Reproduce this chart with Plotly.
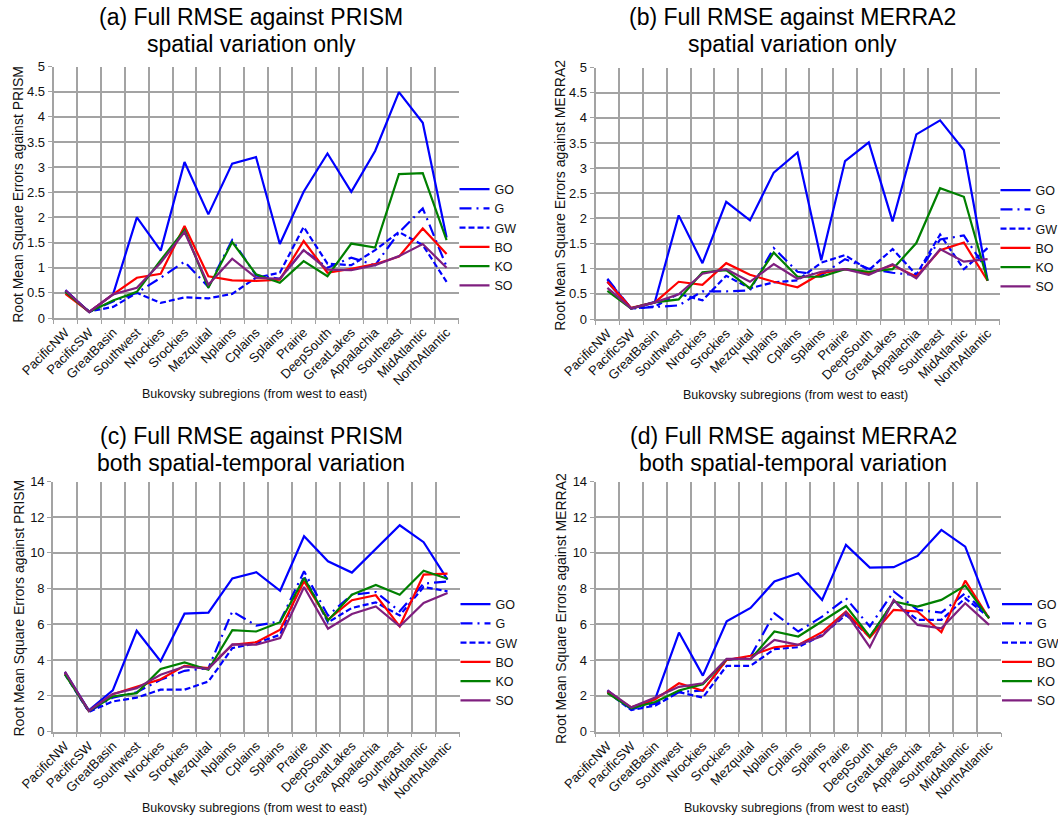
import plotly.graph_objects as go

# Bukovsky subregions, west to east
regions = ["PacificNW", "PacificSW", "GreatBasin", "Southwest", "Nrockies", "Srockies",
           "Mezquital", "Nplains", "Cplains", "Splains", "Prairie", "DeepSouth",
           "GreatLakes", "Appalachia", "Southeast", "MidAtlantic", "NorthAtlantic"]

series_names = ["GO", "G", "GW", "BO", "KO", "SO"]

# (a) RMSE against PRISM, spatial variation only
a_GO = [0.55, 0.12, 0.47, 2.0, 1.34, 3.1, 2.06, 3.07, 3.2, 1.47, 2.51, 3.27, 2.51, 3.32, 4.49, 3.88, 1.6]
a_G = [0.55, 0.12, 0.33, 0.5, 0.8, 1.12, 0.62, 1.55, 0.85, 0.78, 1.35, 1.0, 1.2, 1.05, 1.7, 2.18, 1.02]
a_GW = [0.52, 0.13, 0.22, 0.5, 0.3, 0.41, 0.39, 0.48, 0.8, 0.9, 1.81, 1.08, 1.05, 1.35, 1.71, 1.45, 0.72]
a_BO = [0.48, 0.12, 0.47, 0.8, 0.88, 1.83, 0.83, 0.75, 0.74, 0.76, 1.53, 0.9, 0.98, 1.07, 1.22, 1.78, 1.27]
a_KO = [0.52, 0.12, 0.35, 0.52, 1.15, 1.75, 0.6, 1.51, 0.87, 0.7, 1.13, 0.83, 1.48, 1.4, 2.86, 2.88, 1.55]
a_SO = [0.55, 0.12, 0.47, 0.6, 1.1, 1.71, 0.66, 1.18, 0.8, 0.78, 1.35, 0.96, 0.95, 1.05, 1.23, 1.47, 1.0]

# (b) RMSE against MERRA2, spatial variation only
b_GO = [0.74, 0.21, 0.34, 2.06, 1.11, 2.33, 1.96, 2.91, 3.31, 1.17, 3.14, 3.51, 1.94, 3.67, 3.95, 3.36, 0.76]
b_G = [0.8, 0.21, 0.24, 0.27, 0.55, 0.55, 0.57, 1.41, 0.94, 0.87, 1.19, 1.0, 0.92, 0.87, 1.58, 1.66, 0.95]
b_GW = [0.78, 0.21, 0.25, 0.5, 0.37, 0.86, 0.61, 0.73, 0.77, 1.12, 1.27, 0.97, 1.39, 0.88, 1.68, 0.99, 1.41]
b_BO = [0.74, 0.22, 0.33, 0.74, 0.68, 1.11, 0.88, 0.74, 0.63, 0.91, 0.99, 0.91, 1.07, 0.84, 1.37, 1.52, 0.76]
b_KO = [0.56, 0.21, 0.33, 0.39, 0.93, 0.97, 0.61, 1.32, 0.84, 0.84, 0.99, 0.94, 0.99, 1.51, 2.6, 2.43, 0.76]
b_SO = [0.62, 0.21, 0.33, 0.49, 0.9, 0.99, 0.74, 1.09, 0.8, 0.94, 0.99, 0.88, 1.09, 0.81, 1.39, 1.14, 1.19]

# (c) RMSE against PRISM, spatial-temporal variation
c_GO = [3.33, 1.18, 2.3, 5.64, 3.94, 6.6, 6.66, 8.57, 8.92, 7.88, 10.93, 9.53, 8.9, 10.2, 11.55, 10.6, 8.5]
c_G = [3.3, 1.1, 1.9, 2.2, 2.9, 3.4, 3.55, 6.73, 5.93, 6.17, 8.97, 6.49, 7.66, 7.81, 6.73, 8.28, 8.4]
c_GW = [3.2, 1.1, 1.68, 1.9, 2.34, 2.34, 2.8, 4.67, 4.95, 5.42, 8.69, 6.11, 6.92, 7.23, 6.5, 8.09, 7.85]
c_BO = [3.25, 1.15, 2.09, 2.49, 2.93, 3.68, 3.55, 4.86, 5.0, 5.7, 8.41, 6.26, 7.35, 7.63, 5.89, 8.79, 8.84]
c_KO = [3.2, 1.15, 1.96, 2.15, 3.5, 3.87, 3.46, 5.68, 5.6, 6.12, 8.6, 6.22, 7.66, 8.21, 7.66, 9.0, 8.55]
c_SO = [3.35, 1.15, 2.1, 2.43, 3.18, 3.64, 3.51, 4.88, 4.86, 5.23, 8.09, 5.76, 6.58, 7.0, 5.89, 7.2, 7.76]

# (d) RMSE against MERRA2, spatial-temporal variation
d_GO = [2.3, 1.25, 1.81, 5.54, 3.13, 6.17, 6.92, 8.4, 8.86, 7.37, 10.45, 9.18, 9.2, 9.83, 11.29, 10.35, 6.9]
d_G = [2.25, 1.25, 1.55, 2.2, 2.3, 4.0, 4.2, 6.62, 5.6, 6.43, 7.46, 5.88, 7.84, 6.81, 6.66, 7.74, 6.43]
d_GW = [2.2, 1.2, 1.45, 2.2, 1.9, 3.68, 3.68, 4.61, 4.72, 5.41, 6.53, 5.3, 7.28, 6.25, 6.25, 7.46, 6.4]
d_BO = [2.2, 1.35, 1.8, 2.7, 2.28, 4.01, 4.24, 4.72, 4.85, 5.56, 6.72, 5.26, 6.81, 6.72, 5.56, 8.45, 6.34]
d_KO = [2.15, 1.3, 1.65, 2.3, 2.65, 4.05, 4.05, 5.6, 5.32, 6.16, 7.03, 5.32, 7.28, 7.0, 7.37, 8.17, 6.34]
d_SO = [2.3, 1.35, 1.9, 2.5, 2.7, 4.07, 4.07, 5.13, 4.85, 5.35, 6.66, 4.72, 7.37, 5.97, 5.78, 7.18, 5.97]

panel_a = [a_GO, a_G, a_GW, a_BO, a_KO, a_SO]
panel_b = [b_GO, b_G, b_GW, b_BO, b_KO, b_SO]
panel_c = [c_GO, c_G, c_GW, c_BO, c_KO, c_SO]
panel_d = [d_GO, d_G, d_GW, d_BO, d_KO, d_SO]

colors = ["#0000FF", "#0000FF", "#0000FF", "#FF0000", "#008000", "#7F1F7F"]
dashes = ["solid", "12px,5px,2px,5px", "6px,3px", "solid", "solid", "solid"]

W, H = 1058, 820
FONT = "Liberation Sans, Arial, sans-serif"


def px_x(v):
    return v / W


def px_y(v):
    return 1 - v / H


# plot-area boxes in pixels: left, right, top, bottom
boxes = [
    (53.5, 458.5, 66.5, 318.0),
    (595.5, 999.5, 67.5, 319.0),
    (53.0, 459.5, 481.5, 731.5),
    (595.5, 1001.0, 481.5, 731.5),
]
yranges = [(0, 5, 0.5), (0, 5, 0.5), (0, 14, 2), (0, 14, 2)]
titles = [
    ("(a) Full RMSE against PRISM", "spatial variation only"),
    ("(b) Full RMSE against MERRA2", "spatial variation only"),
    ("(c) Full RMSE against PRISM", "both spatial-temporal variation"),
    ("(d) Full RMSE against MERRA2", "both spatial-temporal variation"),
]
ytitles = [
    "Root Mean Square Errors against PRISM",
    "Root Mean Square Errors against MERRA2",
    "Root Mean Square Errors against PRISM",
    "Root Mean Square Errors against MERRA2",
]
panels = [panel_a, panel_b, panel_c, panel_d]
legend_names = ["legend", "legend2", "legend3", "legend4"]

fig = go.Figure()
annotations = []
layout = {}

for i, (data, box) in enumerate(zip(panels, boxes)):
    n = "" if i == 0 else str(i + 1)
    xa, ya = "x" + n, "y" + n
    for name, vals, col, dash in zip(series_names, data, colors, dashes):
        fig.add_trace(go.Scatter(
            x=regions, y=vals, mode="lines", name=name,
            xaxis=xa, yaxis=ya, legend=legend_names[i],
            line=dict(color=col, width=2.2, dash=dash),
        ))
    left, right, top, bottom = box
    y0, y1, dt = yranges[i]
    layout["xaxis" + n] = dict(
        domain=[px_x(left), px_x(right)], anchor=ya, type="category",
        tickson="boundaries", showgrid=True, gridcolor="#A3A3A3", gridwidth=1.6,
        showline=True, linecolor="#A3A3A3", linewidth=1.6, mirror=False,
        ticks="outside", ticklen=4, tickcolor="#A3A3A3",
        tickangle=-45, tickfont=dict(family=FONT, size=13, color="#111"),
        range=[-0.5, 16.5], fixedrange=True, automargin=False,
    )
    layout["yaxis" + n] = dict(
        domain=[px_y(bottom), px_y(top)], anchor=xa,
        range=[y0, y1], dtick=dt, tick0=0,
        showgrid=True, gridcolor="#A3A3A3", gridwidth=1.6,
        showline=True, linecolor="#A3A3A3", linewidth=1.6,
        ticks="outside", ticklen=4, tickcolor="#A3A3A3",
        tickfont=dict(family=FONT, size=13, color="#111"), zeroline=False,
        automargin=False,
    )
    cx = (left + right) / 2
    # panel title, two lines
    t1, t2 = titles[i]
    ty = 17 if i < 2 else 436
    annotations.append(dict(text=t1, x=px_x(cx - 5), y=px_y(ty), xref="paper", yref="paper",
                            showarrow=False, xanchor="center", yanchor="middle",
                            font=dict(family=FONT, size=23, color="#000")))
    annotations.append(dict(text=t2, x=px_x(cx - 5), y=px_y(ty + 27), xref="paper", yref="paper",
                            showarrow=False, xanchor="center", yanchor="middle",
                            font=dict(family=FONT, size=23, color="#000")))
    # axis titles
    annotations.append(dict(text="Bukovsky subregions (from west to east)",
                            x=px_x(cx - 2), y=px_y(bottom + 76), xref="paper", yref="paper",
                            showarrow=False, xanchor="center", yanchor="middle",
                            font=dict(family=FONT, size=12.5, color="#111")))
    annotations.append(dict(text=ytitles[i], textangle=-90,
                            x=px_x(left - 35), y=px_y((top + bottom) / 2 + 2), xref="paper", yref="paper",
                            showarrow=False, xanchor="center", yanchor="middle",
                            font=dict(family=FONT, size=14, color="#111")))
    # legend beside the panel
    layout[legend_names[i]] = dict(
        x=px_x(right - 4), y=px_y(top + 108), xanchor="left", yanchor="top",
        bgcolor="rgba(0,0,0,0)", font=dict(family=FONT, size=12.5, color="#111"),
        tracegroupgap=0, itemwidth=30,
    )

fig.update_layout(
    width=W, height=H, margin=dict(l=0, r=0, t=0, b=0, autoexpand=False),
    paper_bgcolor="white", plot_bgcolor="white",
    annotations=annotations, showlegend=True, **layout,
)

fig.write_html("out.html")
